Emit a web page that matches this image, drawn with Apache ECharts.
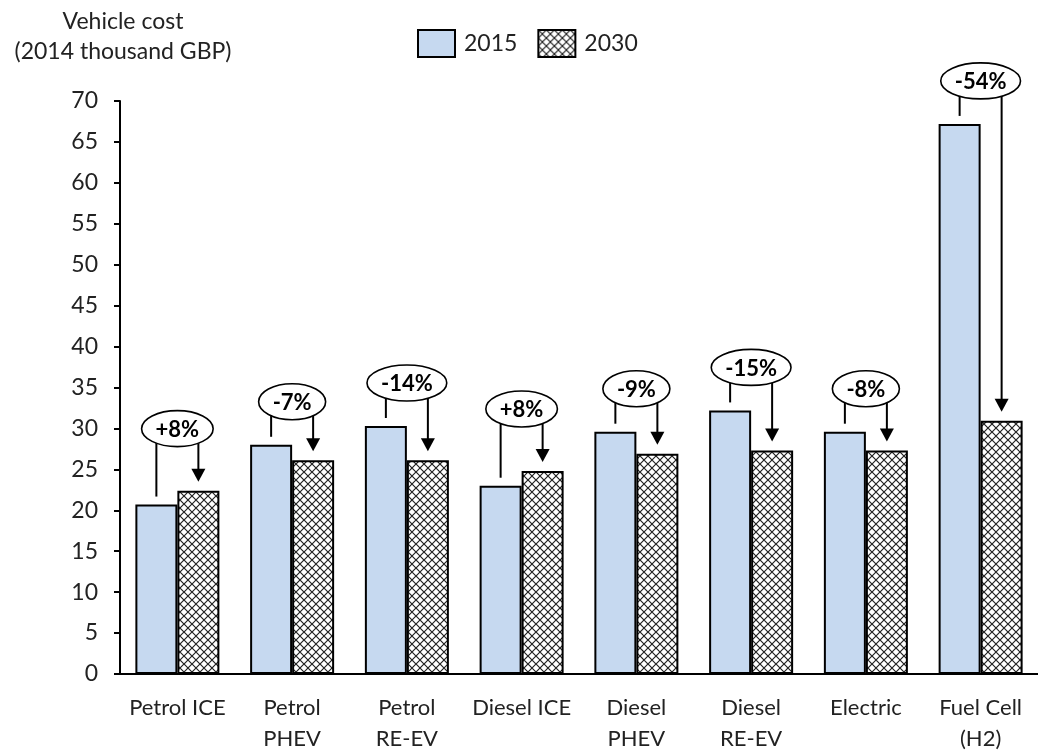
<!DOCTYPE html>
<html>
<head>
<meta charset="utf-8">
<script src="https://cdn.jsdelivr.net/npm/echarts@6/dist/echarts.min.js"></script>
<style>
  html, body { margin: 0; padding: 0; background: #fff; }
  #chart { width: 1038px; height: 754px; }
</style>
</head>
<body>
<div id="chart"></div>
<script>
// Vehicle purchase cost by powertrain, 2015 vs 2030 (2014 thousand GBP)
const categories = ['Petrol ICE', 'Petrol\nPHEV', 'Petrol\nRE-EV', 'Diesel ICE', 'Diesel\nPHEV', 'Diesel\nRE-EV', 'Electric', 'Fuel Cell\n(H2)'];
const cost2015 = [20.7, 28.0, 30.3, 23.0, 29.6, 32.2, 29.6, 67.2];
const cost2030 = [22.4, 26.1, 26.1, 24.8, 26.9, 27.3, 27.3, 30.95];
const changeLabels = ['+8%', '-7%', '-14%', '+8%', '-9%', '-15%', '-8%', '-54%'];
const yTicks = { min: 0, max: 70, interval: 5 };

const FONT = 'Lato, "Open Sans", sans-serif';
const TEXT_COLOR = '#222';
const BAR_W = 42;

// cross-hatch fill for the 2030 bars
function hatch() {
  const s = 8;
  const c = document.createElement('canvas');
  c.width = s; c.height = s;
  const g = c.getContext('2d');
  g.fillStyle = '#fff';
  g.fillRect(0, 0, s, s);
  g.strokeStyle = '#222';
  g.lineWidth = 1.2;
  g.beginPath();
  g.moveTo(0, 0); g.lineTo(s, s);
  g.moveTo(s, 0); g.lineTo(0, s);
  g.stroke();
  return c;
}

const measureCtx = document.createElement('canvas').getContext('2d');
function textWidth(t, font) {
  measureCtx.font = font;
  return measureCtx.measureText(t).width;
}

// callout: ellipse with % change, a stem from the 2015 bar and an arrow onto the 2030 bar
function renderCallout(params, api) {
  const i = api.value(0);
  const v0 = cost2015[i], v1 = cost2030[i];
  const cx = api.coord([i, 0])[0];
  const y0 = api.coord([i, v0])[1];
  const y1 = api.coord([i, v1])[1];
  const xL = cx - BAR_W / 2, xR = cx + BAR_W / 2;
  const font = 'bold 22px ' + FONT;
  const label = changeLabels[i];
  const rx = textWidth(label, font) / 2 + 14;
  const ry = 18;
  const cy = Math.min(y0, y1) - (v1 > v0 ? 62 : 43);
  const tipY = y1 - 9;
  const ah = 13, aw = 7;
  const line = { stroke: '#000', lineWidth: 2 };
  return {
    type: 'group',
    children: [
      { type: 'line', shape: { x1: xL, y1: cy, x2: xL, y2: y0 - 8 }, style: line },
      { type: 'line', shape: { x1: xR, y1: cy, x2: xR, y2: tipY - ah + 1 }, style: line },
      { type: 'polygon', shape: { points: [[xR - aw, tipY - ah], [xR + aw, tipY - ah], [xR, tipY]] }, style: { fill: '#000' } },
      { type: 'ellipse', shape: { cx: cx, cy: cy, rx: rx, ry: ry }, style: { fill: '#fff', stroke: '#000', lineWidth: 1.6 } },
      { type: 'text', style: { text: label, x: cx, y: cy + 1, align: 'center', verticalAlign: 'middle', font: font, fill: '#000' } }
    ]
  };
}

const chart = echarts.init(document.getElementById('chart'), null, { renderer: 'canvas' });
const hatchFill = { image: hatch(), repeat: 'repeat' };

chart.setOption({
  animation: false,
  backgroundColor: '#fff',
  textStyle: { fontFamily: FONT },
  title: {
    text: 'Vehicle cost\n(2014 thousand GBP)',
    left: 118, top: 2, textAlign: 'center',
    textStyle: { fontFamily: FONT, fontSize: 23, fontWeight: 'normal', color: TEXT_COLOR, lineHeight: 30 }
  },
  legend: {
    left: 412, top: 24,
    itemWidth: 37, itemHeight: 27, itemGap: 20,
    icon: 'rect',
    textStyle: { fontFamily: FONT, fontSize: 23, color: TEXT_COLOR, padding: [0, 0, 0, 4] },
    data: ['2015', '2030']
  },
  grid: { left: 120, top: 101, width: 925, height: 579, containLabel: false },
  xAxis: {
    type: 'category',
    data: categories,
    axisLine: { lineStyle: { color: '#000', width: 2 } },
    axisTick: { show: false },
    axisLabel: { fontFamily: FONT, fontSize: 22, color: TEXT_COLOR, margin: 18, lineHeight: 31, interval: 0 }
  },
  yAxis: {
    type: 'value',
    min: yTicks.min, max: yTicks.max, interval: yTicks.interval,
    axisLine: { show: true, lineStyle: { color: '#000', width: 2 } },
    axisTick: { show: true, length: 6, lineStyle: { color: '#000', width: 2 } },
    axisLabel: { fontFamily: FONT, fontSize: 23, color: TEXT_COLOR, margin: 22 },
    splitLine: { show: false }
  },
  series: [
    {
      name: '2015', type: 'bar', data: cost2015,
      barWidth: BAR_W, barGap: '0%',
      itemStyle: { color: '#c6d9f0', borderColor: '#000', borderWidth: 2 }
    },
    {
      name: '2030', type: 'bar', data: cost2030,
      barWidth: BAR_W, barGap: '0%',
      itemStyle: { color: hatchFill, borderColor: '#000', borderWidth: 2 }
    },
    {
      type: 'custom', z: 10, silent: true,
      coordinateSystem: 'cartesian2d',
      encode: { x: 0, y: 1 },
      data: categories.map((c, i) => [i, 0]),
      renderItem: renderCallout
    }
  ]
});
</script>
</body>
</html>
